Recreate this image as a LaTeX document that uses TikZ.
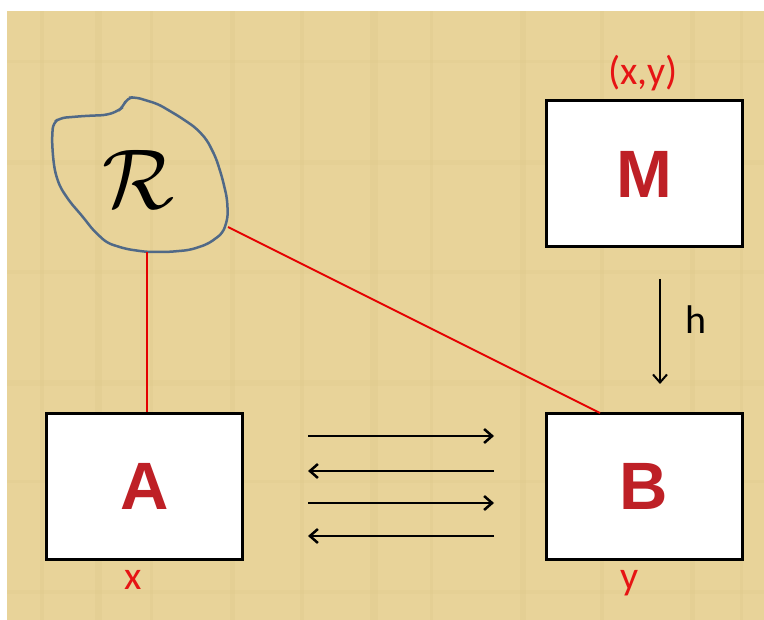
\documentclass[tikz,border=0pt]{standalone}
\usepackage{fontspec}
\setmainfont{Carlito}
\newfontfamily\boldsans{Liberation Sans}
\usetikzlibrary{arrows.meta}
\definecolor{paper}{RGB}{232,211,153}
\definecolor{paperdark}{RGB}{218,194,132}
\definecolor{blobline}{RGB}{80,105,135}
\definecolor{letterred}{RGB}{190,32,38}
\definecolor{labelred}{RGB}{230,20,20}
\tikzset{
  box/.style={draw=black, line width=3pt, fill=white, minimum width=196pt, minimum height=146pt, inner sep=0pt},
  bigletter/.style={font=\boldsans\bfseries\fontsize{67}{67}\selectfont, text=letterred},
  redlabel/.style={font=\fontsize{40}{40}\selectfont, text=labelred, inner sep=0pt},
  link/.style={draw=red!90!black, line width=2pt},
  flow/.style={draw=black, line width=2.5pt, -{Straight Barb[length=8pt,width=14pt,line width=2.5pt]}},
}
\begin{document}
\begin{tikzpicture}[x=1pt,y=-1pt]
\useasboundingbox (0,0) rectangle (764,620);
\fill[white] (0,0) rectangle (764,620);
\fill[paper] (7,11) rectangle (764,620);
% faint texture
\foreach \xx/\w in {40/4,95/7,150/3,230/5,300/4,370/8,430/3,520/6,600/4,690/5,740/3}
  \fill[paperdark, opacity=0.22] (\xx,11) rectangle (\xx+\w,620);
\foreach \yy/\w in {60/3,160/5,270/4,380/6,480/3,590/4}
  \fill[paperdark, opacity=0.15] (7,\yy) rectangle (764,\yy+\w);

% boxes
\node[box] (M) at (644,174) {};
\node[box] (A) at (144.5,486.5) {};
\node[box] (B) at (644,486.5) {};
\node[bigletter] (Mt) at (M.center) {M};
\node[bigletter] (At) at (A.center) {A};
\node[bigletter] (Bt) at (B.center) {B};

% labels
\node[redlabel, anchor=base] (xy) at (643,85) {(x,y)};
\node[redlabel, anchor=base] (xl) at (133,590) {x};
\node[redlabel, anchor=base] (yl) at (630,590) {y};

% blob
\draw[blobline, line width=2.5pt, rounded corners=6pt]
  (127,98) -- (135,97) -- (158,104) -- (180,117) -- (196,128) -- (207,140) -- (216,158)
  -- (222,177) -- (227,198) -- (228,217) -- (223,233) -- (208,244) -- (190,250)
  -- (168,252) -- (147,252) -- (126,249) -- (107,243) -- (93,230) -- (83,217)
  -- (70,202) -- (60,187) -- (55,172) -- (53,157) -- (52,140) -- (53,123)
  -- (60,118) -- (84,116) -- (107,115) -- (118,111) -- (123,107) -- cycle;
\coordinate (Rb) at (147,252);
\coordinate (Rr) at (228,227);
\node[scale=8.5] (R) at (139,179) {$\mathcal{R}$};

% red links
\draw[link] (Rb) -- (Rb |- A.north);
\draw[link] (Rr) -- (600,413) coordinate (Bt0);

% exchange arrows
\coordinate (L1) at (308,436); \coordinate (R1) at (494,436);
\coordinate (L2) at (308,471); \coordinate (R2) at (494,471);
\coordinate (L3) at (308,503); \coordinate (R3) at (494,503);
\coordinate (L4) at (308,536); \coordinate (R4) at (494,536);
\draw[flow] (L1) -- (R1);
\draw[flow] (R2) -- (L2);
\draw[flow] (L3) -- (R3);
\draw[flow] (R4) -- (L4);

% h arrow
\coordinate (h1) at (660,279);
\coordinate (h2) at (660,384);
\draw[draw=black, line width=2pt, -{Straight Barb[length=8pt,width=14pt,line width=2pt]}] (h1) -- (h2);
\node[font=\fontsize{40}{40}\selectfont, anchor=base] (hl) at (696,334) {h};
\end{tikzpicture}
\end{document}
